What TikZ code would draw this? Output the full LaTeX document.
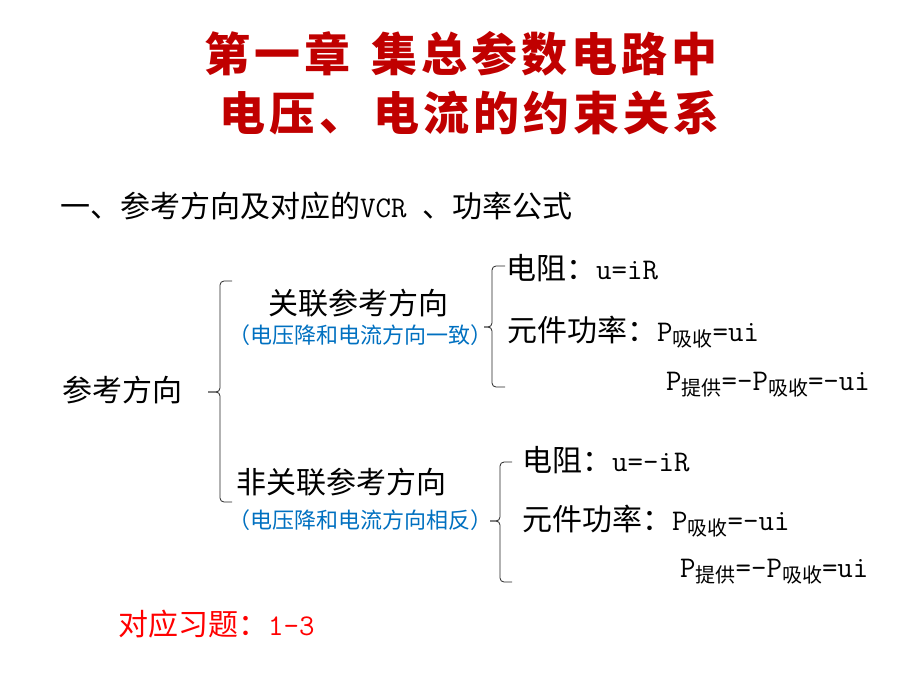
\documentclass[tikz,border=0pt]{standalone}
\usepackage{fontspec}
\setmainfont{Noto Sans CJK SC}
\usepackage{tikz}

\definecolor{titlered}{RGB}{192,0,0}
\definecolor{noteblue}{RGB}{0,112,192}
\definecolor{hintred}{RGB}{255,0,0}
\newcommand\fsz[1]{\fontsize{#1}{#1}\selectfont}
\newcommand\lowtxt[1]{\raisebox{-5pt}{\fsz{20}#1}}

\begin{document}
\begin{tikzpicture}[x=1pt, y=-1pt, inner sep=0pt,
    title node/.style={anchor=base west, text=titlered,
                       font=\fsz{46}\bfseries\addfontfeature{LetterSpace=8.7}},
    main node/.style={anchor=base west, font=\fsz{30}},
    note node/.style={anchor=base, font=\fsz{22}, text=noteblue},
    brace line/.style={draw=black!85, line width=0.8pt, rounded corners=4pt}]

  \useasboundingbox (0,0) rectangle (920,690);

  % title
  \node[title node] (t1) at (204,72) {第一章\hspace{21pt}集总参数电路中};
  \node[title node] (t2) at (219,131) {电压、\hspace{8pt}电流的约束关系};

  \node[main node] (sec) at (60,217) {一、参考方向及对应的\texttt{VCR\ }、功率公式};

  \node[main node] (ref) at (62,401) {参考方向};
  \node[main node] (assoc) at (268,314) {关联参考方向};
  \node[note node] (assocnote) at (360,343) {（电压降和电流方向一致）};
  \node[main node] (nonassoc) at (236,493) {非关联参考方向};
  \node[note node] (nonnote) at (360,528) {（电压降和电流方向相反）};

  \node[main node] (r1) at (506,279) {电阻：\texttt{u=iR}};
  \node[main node] (p1) at (507,341) {元件功率：\texttt{P}\lowtxt{吸收}\texttt{=ui}};
  \node[main node] (q1) at (666,390) {\texttt{P}\lowtxt{提供}\texttt{=-P}\lowtxt{吸收}\texttt{=-ui}};

  \node[main node] (r2) at (522,471) {电阻：\texttt{u=-iR}};
  \node[main node] (p2) at (522,530) {元件功率：\texttt{P}\lowtxt{吸收}\texttt{=-ui}};
  \node[main node] (q2) at (680,577) {\texttt{P}\lowtxt{提供}\texttt{=-P}\lowtxt{吸收}\texttt{=ui}};

  \node[main node, text=hintred] (hint) at (118,635) {对应习题：\texttt{1-3}};

  % braces
  \draw[brace line] (232,281) -| (220,392) -- (208,392);
  \draw[brace line] (208,392) -- (220,392) |- (232,502);
  \draw[brace line] (505,266) -| (492,327) -- (484,327);
  \draw[brace line] (484,327) -- (492,327) |- (505,387);
  \draw[brace line] (512,462) -| (500,521) -- (490,521);
  \draw[brace line] (490,521) -- (500,521) |- (512,582);
\end{tikzpicture}
\end{document}
